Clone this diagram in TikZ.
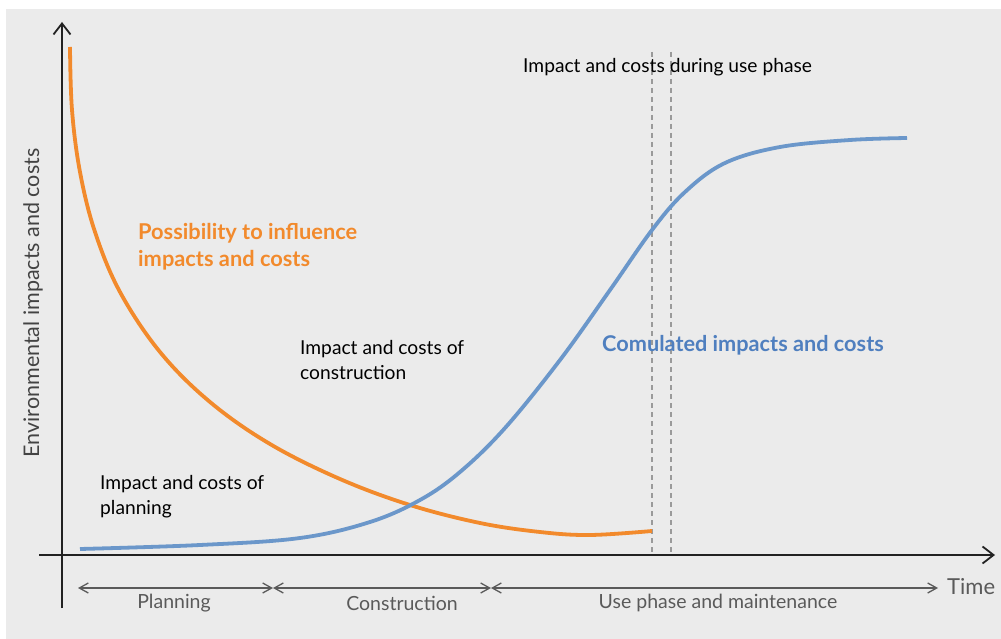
\documentclass[tikz,border=0pt]{standalone}
\usepackage{fontspec}
\setmainfont{Lato}
\usetikzlibrary{arrows.meta}
\definecolor{bggray}{HTML}{EBEBEB}
\definecolor{axisc}{HTML}{222222}
\definecolor{dimc}{HTML}{5A5A5A}
\definecolor{orangec}{HTML}{F28A2C}
\definecolor{bluec}{HTML}{6B97CA}
\definecolor{bluetext}{HTML}{4F7FBF}
\definecolor{dashc}{HTML}{9A9A9A}
\begin{document}
\begin{tikzpicture}[x=1pt,y=-1pt,
  axisline/.style={draw=axisc,line width=1.8pt,-{Straight Barb[length=11pt,width=17pt,line width=1.8pt]}},
  dimline/.style={draw=dimc,line width=1.3pt,{Straight Barb[length=9pt,width=10pt,line width=1.3pt]}-{Straight Barb[length=9pt,width=10pt,line width=1.3pt]}},
  dimlabel/.style={text=dimc,font=\fontsize{19.5}{22}\selectfont,inner sep=0pt},
  plainlabel/.style={text=black,font=\fontsize{19.2}{25}\selectfont,align=left,inner sep=0pt,anchor=base west},
  orangelabel/.style={text=orangec,font=\fontsize{21.8}{27}\selectfont\bfseries,align=left,inner sep=0pt,anchor=base west},
  bluelabel/.style={text=bluetext,font=\fontsize{21.7}{27}\selectfont\bfseries,inner sep=0pt,anchor=base west},
  curve/.style={line width=3.8pt},
  dashv/.style={draw=dashc,line width=1.3pt,dash pattern=on 5pt off 4pt}]
\useasboundingbox (0,0) rectangle (1001,639);
\fill[white] (0,0) rectangle (1001,639);
\fill[bggray] (6,9) rectangle (1001,639);
% coordinates
\coordinate (yb) at (62,608);
\coordinate (yt) at (62,22);
\coordinate (xl) at (39,555);
\coordinate (xr) at (995,555);
\coordinate (d0) at (78,588);
\coordinate (d1) at (273,588);
\coordinate (d2) at (491,588);
\coordinate (d3) at (938,588);
\coordinate (v1t) at (652,52);
\coordinate (v1b) at (652,552);
\coordinate (v2t) at (671,52);
\coordinate (v2b) at (671,552);
% dashed lines
\draw[dashv] (v1t) -- (v1b);
\draw[dashv] (v2t) -- (v2b);
% curves
\draw[orangec,curve] plot[smooth,tension=0.6] coordinates {(70,47) (72,110) (80,172) (95,232) (120,292) (160,352) (210,402) (270,444) (340,479) (410,505) (480,523) (540,532) (590,535) (652,531)};
\draw[bluec,curve] plot[smooth,tension=0.6] coordinates {(80,549) (200,545) (300,538) (370,522) (420,500) (460,472) (505,428) (560,360) (610,290) (652,230) (685,192) (725,163) (780,147) (850,140) (907,138)};
% axes
\draw[axisline] (yb) -- (yt);
\draw[axisline] (xl) -- (xr);
% dimension arrows
\draw[dimline] (d0) -- (d1);
\draw[dimline] (d1) -- (d2);
\draw[dimline] (d2) -- (d3);
\node[dimlabel] (lplan) at (174,603) {Planning};
\node[dimlabel] (lcons) at (402,603) {Construction};
\node[dimlabel] (luse) at (718,603) {Use phase and maintenance};
\node[dimlabel,font=\fontsize{22}{24}\selectfont,anchor=west] (ltime) at (947,587) {Time};
% axis label
\node[dimlabel,text=axisc!85,rotate=90,font=\fontsize{21.5}{24}\selectfont] (lyaxis) at (33,303) {Environmental impacts and costs};
% texts
\node[plainlabel] (tuse) at (523,73) {Impact and costs during use phase};
\node[orangelabel] (tposs) at (138,266) {Possibility to influence\\impacts and costs};
\node[bluelabel] (tcum) at (602,351) {Comulated impacts and costs};
\node[plainlabel] (tcons) at (300,379) {Impact and costs of\\construction};
\node[plainlabel] (tplan) at (100,514) {Impact and costs of\\planning};
\end{tikzpicture}
\end{document}
